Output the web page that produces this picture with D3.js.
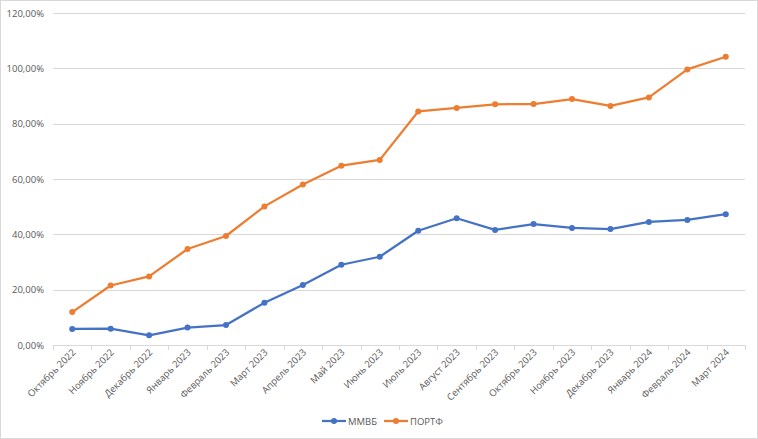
<!DOCTYPE html>
<html><head><meta charset="utf-8">
<script src="https://cdn.jsdelivr.net/npm/d3@7"></script>
<style>body{margin:0;background:#fff}svg{display:block}</style>
</head><body>
<script>
const categories = ["Октябрь 2022","Ноябрь 2022","Декабрь 2022","Январь 2023","Февраль 2023","Март 2023","Апрель 2023","Май 2023","Июнь 2023","Июль 2023","Август 2023","Сентябрь 2023","Октябрь 2023","Ноябрь 2023","Декабрь 2023","Январь 2024","Февраль 2024","Март 2024"];
const mmvb = [5.8,5.9,3.5,6.3,7.2,15.3,21.7,29.0,31.9,41.3,45.8,41.6,43.7,42.3,41.9,44.5,45.2,47.3];
const portf = [11.9,21.5,24.8,34.7,39.4,50.1,58.0,64.8,66.9,84.4,85.7,87.0,87.1,88.9,86.4,89.5,99.6,104.2];
const yTicks = [0,20,40,60,80,100,120];
const seriesNames = ["ММВБ","ПОРТФ"];
const colors = ["#4472C4","#ED7D31"];

(function(){
const W=758,H=439;
const svg=d3.select("body").append("svg").attr("width",W).attr("height",H);
svg.append("rect").attr("x",0.5).attr("y",0.5).attr("width",W-1).attr("height",H-1).attr("fill","#fff").attr("stroke","#d9d9d9");
const pL=53,pR=745,pT=13,pB=345;
const x=d3.scaleBand().domain(categories).range([pL,pR]);
const y=d3.scaleLinear().domain([0,120]).range([pB,pT]);
const font="'Open Sans', 'Liberation Sans', sans-serif";

svg.append("g").selectAll("line").data(yTicks.filter(d=>d>0)).join("line")
 .attr("x1",pL).attr("x2",pR).attr("y1",d=>Math.round(y(d))+0.5).attr("y2",d=>Math.round(y(d))+0.5)
 .attr("stroke","#d9d9d9").attr("stroke-width",1);
svg.append("g").selectAll("text").data(yTicks).join("text")
 .attr("x",44).attr("y",d=>y(d)+3.5).attr("text-anchor","end")
 .attr("font-family",font).attr("font-size",9.5).attr("fill","#595959")
 .text(d=>d3.format(".2f")(d).replace(".",",")+"%");
svg.append("line").attr("x1",pL).attr("x2",pR).attr("y1",pB+0.5).attr("y2",pB+0.5).attr("stroke","#d9d9d9");
const bounds=categories.map(c=>x(c)).concat([pR]);
svg.append("g").selectAll("line").data(bounds).join("line")
 .attr("x1",d=>Math.round(d)+0.5).attr("x2",d=>Math.round(d)+0.5).attr("y1",pB).attr("y2",pB+5).attr("stroke","#d9d9d9");
svg.append("g").selectAll("text").data(categories).join("text")
 .attr("transform",d=>`translate(${x(d)+x.bandwidth()/2+4},${pB+8}) rotate(-45)`)
 .attr("text-anchor","end").attr("font-family",font).attr("font-size",9.5).attr("fill","#595959")
 .text(d=>d);

const cx=d=>x(d)+x.bandwidth()/2;
[mmvb,portf].forEach((vals,i)=>{
  const data=categories.map((c,j)=>({c,v:vals[j]}));
  svg.append("path").datum(data)
   .attr("d",d3.line().x(d=>cx(d.c)).y(d=>y(d.v)))
   .attr("fill","none").attr("stroke",colors[i]).attr("stroke-width",2.25).attr("stroke-linejoin","round");
  svg.append("g").selectAll("circle").data(data).join("circle")
   .attr("cx",d=>cx(d.c)).attr("cy",d=>y(d.v)).attr("r",3).attr("fill",colors[i]);
});

const lgX=[322,384];
seriesNames.forEach((n,i)=>{
  const lx=lgX[i], ly=421;
  svg.append("line").attr("x1",lx).attr("x2",lx+24).attr("y1",ly).attr("y2",ly).attr("stroke",colors[i]).attr("stroke-width",2.25);
  svg.append("circle").attr("cx",lx+12).attr("cy",ly).attr("r",3).attr("fill",colors[i]);
  svg.append("text").attr("x",lx+26).attr("y",ly+3.5).attr("font-family",font).attr("font-size",9.5).attr("fill","#595959").text(n);
});
})();
</script>
</body></html>
